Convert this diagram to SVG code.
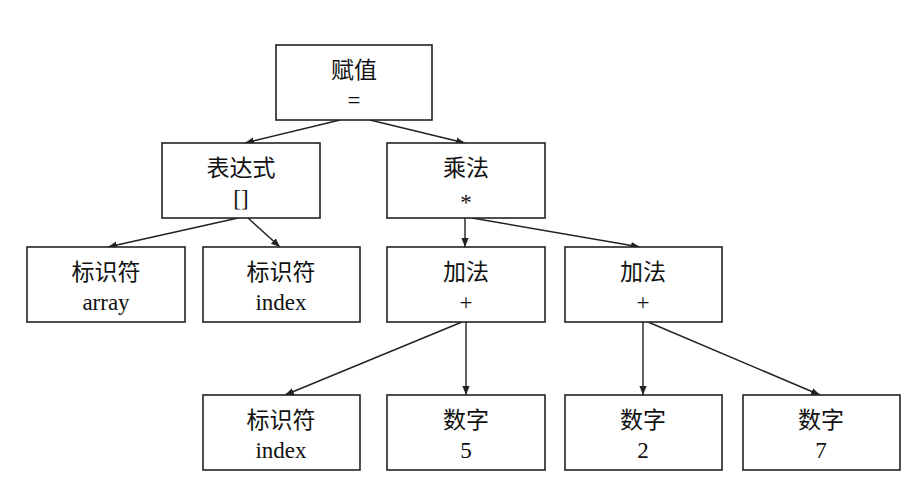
<svg xmlns="http://www.w3.org/2000/svg" width="919" height="482" viewBox="0 0 919 482">
<style>
.b{fill:#fff;stroke:#222;stroke-width:1.6}
.t{font-family:"Liberation Serif","Noto Sans CJK SC",serif;font-size:23px;fill:#111;text-anchor:middle}
.c line{stroke:#222;stroke-width:1.4;marker-end:url(#a)}
</style>
<defs><marker id="a" viewBox="0 0 10 10" refX="10" refY="5" markerWidth="9" markerHeight="9" orient="auto" markerUnits="userSpaceOnUse"><path d="M0,1 L10,5 L0,9 Z" fill="#222"/></marker></defs>
<rect width="919" height="482" fill="#fff"/>
<g class="c">
<line x1="340" y1="120" x2="245" y2="143"/>
<line x1="370" y1="120" x2="465" y2="143"/>
<line x1="238" y1="218" x2="108" y2="247"/>
<line x1="248" y1="218" x2="280" y2="247"/>
<line x1="465" y1="218" x2="465" y2="247"/>
<line x1="472" y1="218" x2="640" y2="247"/>
<line x1="462" y1="322" x2="285" y2="395"/>
<line x1="466" y1="322" x2="466" y2="395"/>
<line x1="643" y1="322" x2="643" y2="395"/>
<line x1="648" y1="322" x2="820" y2="395"/>
</g>
<g id="n1"><rect class="b" x="276" y="45" width="156" height="75"/><text class="t" x="354" y="78">赋值</text><text class="t" x="354" y="108">=</text></g>
<g id="n2"><rect class="b" x="162" y="143" width="158" height="75"/><text class="t" x="241" y="176">表达式</text><text class="t" x="241" y="206">[]</text></g>
<g id="n3"><rect class="b" x="387" y="143" width="158" height="75"/><text class="t" x="466" y="176">乘法</text><text class="t" x="466" y="210">*</text></g>
<g id="n4"><rect class="b" x="27" y="247" width="158" height="75"/><text class="t" x="106" y="280">标识符</text><text class="t" x="106" y="310">array</text></g>
<g id="n5"><rect class="b" x="203" y="247" width="157" height="75"/><text class="t" x="281" y="280">标识符</text><text class="t" x="281" y="310">index</text></g>
<g id="n6"><rect class="b" x="387" y="247" width="158" height="75"/><text class="t" x="466" y="280">加法</text><text class="t" x="466" y="310">+</text></g>
<g id="n7"><rect class="b" x="565" y="247" width="157" height="75"/><text class="t" x="643" y="280">加法</text><text class="t" x="643" y="310">+</text></g>
<g id="n8"><rect class="b" x="203" y="395" width="157" height="75"/><text class="t" x="281" y="428">标识符</text><text class="t" x="281" y="458">index</text></g>
<g id="n9"><rect class="b" x="387" y="395" width="158" height="75"/><text class="t" x="466" y="428">数字</text><text class="t" x="466" y="458">5</text></g>
<g id="n10"><rect class="b" x="565" y="395" width="157" height="75"/><text class="t" x="643" y="428">数字</text><text class="t" x="643" y="458">2</text></g>
<g id="n11"><rect class="b" x="743" y="395" width="157" height="75"/><text class="t" x="821" y="428">数字</text><text class="t" x="821" y="458">7</text></g>
</svg>
